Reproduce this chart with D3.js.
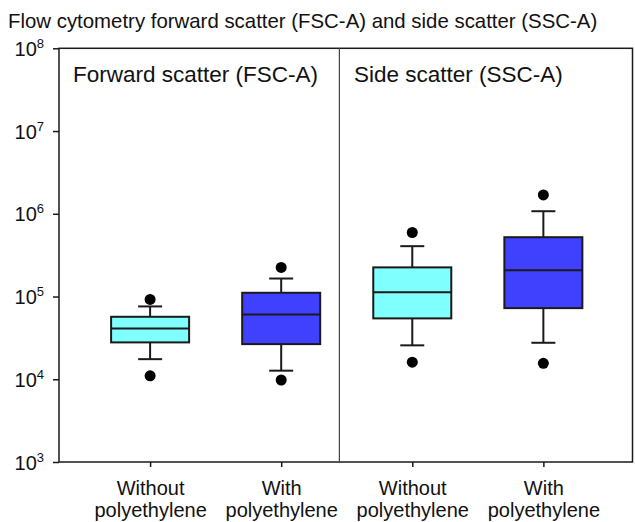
<!DOCTYPE html>
<html>
<head>
<meta charset="utf-8">
<script src="https://cdn.jsdelivr.net/npm/d3@7"></script>
<style>
  html, body { margin: 0; padding: 0; background: #fff; }
  svg { display: block; font-family: "Liberation Sans", Arial, sans-serif; }
</style>
</head>
<body>
<svg id="chart" width="635" height="522"></svg>
<script>
// ---- data ----
const title = "Flow cytometry forward scatter (FSC-A) and side scatter (SSC-A)";
const panelLabels = ["Forward scatter (FSC-A)", "Side scatter (SSC-A)"];
const categoriesLine1 = ["Without", "With", "Without", "With"];
const categoriesLine2 = ["polyethylene", "polyethylene", "polyethylene", "polyethylene"];
const groupPanel = ["FSC", "FSC", "SSC", "SSC"];
const lowerOutlier = [11000, 9800, 16100, 15600];
const lowerWhisker = [17500, 12700, 25700, 27600];
const q1 = [27900, 26600, 54400, 72400];
const median = [41200, 60800, 113000, 208000];
const q3 = [56900, 111000, 225000, 521000];
const upperWhisker = [75900, 165000, 406000, 1074000];
const upperOutlier = [92200, 225000, 594000, 1690000];
const boxColors = ["#80FFFF", "#4040FF", "#80FFFF", "#4040FF"];
const yTickExponents = [3, 4, 5, 6, 7, 8];

// ---- layout ----
const svg = d3.select("#chart");
const plotLeft = 59, plotRight = 632.5, plotTop = 48.3, plotBottom = 462;
const catPos = [1, 2, 3, 4];
const x = d3.scaleLinear().domain([0.305, 4.68]).range([plotLeft, plotRight]);
const dividerPos = 2.444;
const y = d3.scaleLog().domain([1e3, 1e8]).range([plotBottom, plotTop]);
const boxW = 78, capW = 24, dotR = 5.5;
const ink = "#1a1a1a";

// title
svg.append("text")
  .attr("x", 8).attr("y", 28)
  .attr("font-size", 20.4).attr("fill", "#111")
  .text(title);

// frame
svg.append("rect")
  .attr("x", plotLeft).attr("y", plotTop)
  .attr("width", plotRight - plotLeft).attr("height", plotBottom - plotTop)
  .attr("fill", "none").attr("stroke", ink).attr("stroke-width", 1.5);

// divider
svg.append("line")
  .attr("x1", x(dividerPos)).attr("x2", x(dividerPos))
  .attr("y1", plotTop).attr("y2", plotBottom)
  .attr("stroke", "#444").attr("stroke-width", 1.2);

// panel labels
svg.append("text").attr("x", 73).attr("y", 82).attr("font-size", 22.5).attr("fill", "#111").text(panelLabels[0]);
svg.append("text").attr("x", 354).attr("y", 82).attr("font-size", 22.5).attr("fill", "#111").text(panelLabels[1]);

// y axis
const yAxis = d3.axisLeft(y)
  .tickValues(yTickExponents.map(e => Math.pow(10, e)))
  .tickSize(6).tickPadding(9)
  .tickFormat("");
const yg = svg.append("g").attr("transform", `translate(${plotLeft},0)`).call(yAxis);
yg.select(".domain").remove();
yg.selectAll(".tick line").attr("stroke", ink).attr("stroke-width", 1.5);
yg.selectAll(".tick").each(function(d, i) {
  const t = d3.select(this).append("text")
    .attr("x", -15).attr("y", 7)
    .attr("text-anchor", "end")
    .attr("fill", "#111")
    .attr("font-size", 20);
  t.append("tspan").text("10");
  t.append("tspan").attr("dy", -8).attr("font-size", 13).text(String(Math.round(Math.log10(d))));
});

// x axis
const xAxis = d3.axisBottom(x).tickValues(catPos).tickSize(5).tickFormat("");
const xg = svg.append("g").attr("transform", `translate(0,${plotBottom})`).call(xAxis);
xg.select(".domain").remove();
xg.selectAll(".tick line").attr("stroke", ink).attr("stroke-width", 1.5);
xg.selectAll(".tick").each(function(d, i) {
  const t = d3.select(this).append("text")
    .attr("text-anchor", "middle").attr("fill", "#111").attr("font-size", 20);
  t.append("tspan").attr("x", 0).attr("y", 33).text(categoriesLine1[i]);
  t.append("tspan").attr("x", 0).attr("y", 55).text(categoriesLine2[i]);
});

// boxes
const data = catPos.map((c, i) => ({
  c, lo: lowerOutlier[i], lw: lowerWhisker[i], q1: q1[i], med: median[i],
  q3: q3[i], uw: upperWhisker[i], hi: upperOutlier[i], color: boxColors[i]
}));

const g = svg.append("g");
const box = g.selectAll("g.box").data(data).join("g").attr("class", "box");

// whiskers
box.append("line")
  .attr("x1", d => x(d.c)).attr("x2", d => x(d.c))
  .attr("y1", d => y(d.q3)).attr("y2", d => y(d.uw))
  .attr("stroke", ink).attr("stroke-width", 2);
box.append("line")
  .attr("x1", d => x(d.c)).attr("x2", d => x(d.c))
  .attr("y1", d => y(d.q1)).attr("y2", d => y(d.lw))
  .attr("stroke", ink).attr("stroke-width", 2);
box.append("line")
  .attr("x1", d => x(d.c) - capW / 2).attr("x2", d => x(d.c) + capW / 2)
  .attr("y1", d => y(d.uw)).attr("y2", d => y(d.uw))
  .attr("stroke", ink).attr("stroke-width", 2);
box.append("line")
  .attr("x1", d => x(d.c) - capW / 2).attr("x2", d => x(d.c) + capW / 2)
  .attr("y1", d => y(d.lw)).attr("y2", d => y(d.lw))
  .attr("stroke", ink).attr("stroke-width", 2);

// box rect
box.append("rect")
  .attr("x", d => x(d.c) - boxW / 2).attr("width", boxW)
  .attr("y", d => y(d.q3)).attr("height", d => y(d.q1) - y(d.q3))
  .attr("fill", d => d.color).attr("stroke", ink).attr("stroke-width", 2);

// median
box.append("line")
  .attr("x1", d => x(d.c) - boxW / 2).attr("x2", d => x(d.c) + boxW / 2)
  .attr("y1", d => y(d.med)).attr("y2", d => y(d.med))
  .attr("stroke", ink).attr("stroke-width", 2);

// outliers
box.append("circle")
  .attr("cx", d => x(d.c)).attr("cy", d => y(d.hi)).attr("r", dotR).attr("fill", "#000");
box.append("circle")
  .attr("cx", d => x(d.c)).attr("cy", d => y(d.lo)).attr("r", dotR).attr("fill", "#000");
</script>
</body>
</html>
